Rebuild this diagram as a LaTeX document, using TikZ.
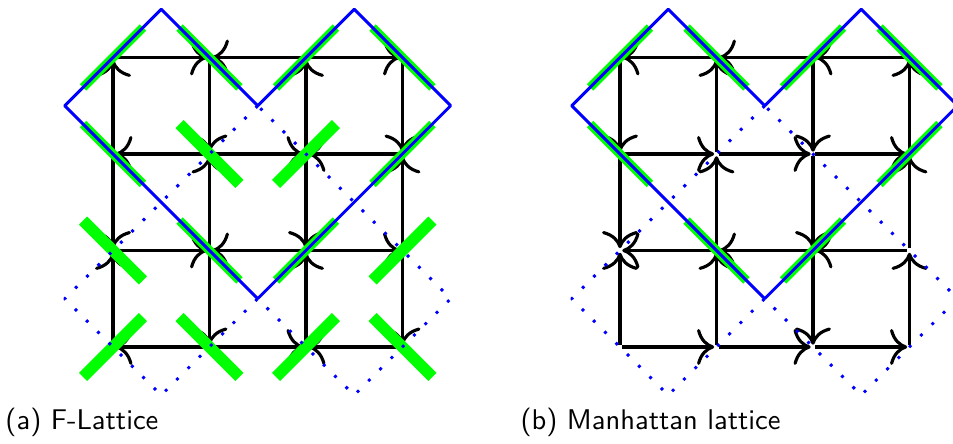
\documentclass[tikz,border=0pt]{standalone}
\usetikzlibrary{arrows.meta}
\tikzset{
  vtx/.style={circle,inner sep=0pt,minimum size=1.2pt},
  lat/.style={-{Computer Modern Rightarrow[scale=1.5]},line width=1.1pt},
  bline/.style={blue,line width=1pt},
  dline/.style={blue,line width=1pt,dash pattern=on 1pt off 4.6pt},
  bar/.style={green,line width=4pt},
  thinbar/.style={green,line width=3.2pt},
  captext/.style={anchor=base west,font=\sffamily,inner sep=0pt}
}
\begin{document}
\begin{tikzpicture}[x=1.19cm,y=1.19cm,line join=round]
\useasboundingbox (-1.171,-0.995) rectangle (8.705,3.596);

% (a) F-lattice
\foreach \i in {0,...,3}
  \foreach \j in {0,...,3}
    \node[vtx] (a\i\j) at (\i,\j) {};
% rows point to the even vertex, columns to the odd one
\foreach \i in {0,1,2}
  \foreach \j in {0,...,3}{
    \pgfmathtruncatemacro\p{mod(\i+\j,2)}
    \pgfmathtruncatemacro\ii{\i+1}
    \ifnum\p=0 \draw[lat] (a\ii\j) -- (a\i\j);
    \else \draw[lat] (a\i\j) -- (a\ii\j); \fi
  }
\foreach \i in {0,...,3}
  \foreach \j in {0,1,2}{
    \pgfmathtruncatemacro\p{mod(\i+\j,2)}
    \pgfmathtruncatemacro\jj{\j+1}
    \ifnum\p=0 \draw[lat] (a\i\j) -- (a\i\jj);
    \else \draw[lat] (a\i\jj) -- (a\i\j); \fi
  }
% splittings
\foreach \i/\j/\s in {0/3/1,1/3/-1,2/3/1,3/3/-1,0/2/-1,3/2/1,1/1/-1,2/1/1}
  \draw[thinbar] (\i-.31,\j-.31*\s) -- (\i+.31,\j+.31*\s);
\foreach \i/\j/\s in {1/2/-1,2/2/1,0/1/-1,3/1/1,0/0/1,1/0/-1,2/0/1,3/0/-1}
  \draw[bar] (\i-.31,\j-.31*\s) -- (\i+.31,\j+.31*\s);
\draw[bline] (-.5,2.5) -- (.5,3.5) -- (1.5,2.5) -- (2.5,3.5) -- (3.5,2.5) -- (1.5,.5) -- cycle;
\draw[dline] (1.5,2.5) -- (-.5,.5) -- (.5,-.5) -- (1.5,.5) -- (2.5,-.5) -- (3.5,.5) -- cycle;
\node[captext] (capa) at (-1.12,-.85) {(a) F-Lattice};

% (b) Manhattan lattice
\begin{scope}[shift={(5.254,0)}]
\foreach \i in {0,...,3}
  \foreach \j in {0,...,3}
    \node[vtx] (b\i\j) at (\i,\j) {};
\foreach \i in {0,1,2}
  \foreach \j in {0,...,3}{
    \pgfmathtruncatemacro\ii{\i+1}
    \ifodd\j \draw[lat] (b\ii\j) -- (b\i\j);
    \else \draw[lat] (b\i\j) -- (b\ii\j); \fi
  }
\foreach \i in {0,...,3}
  \foreach \j in {0,1,2}{
    \pgfmathtruncatemacro\p{or(mod(\i,2)==1,and(\i==0,\j==0))}
    \pgfmathtruncatemacro\jj{\j+1}
    \ifnum\p=1 \draw[lat] (b\i\j) -- (b\i\jj);
    \else \draw[lat] (b\i\jj) -- (b\i\j); \fi
  }
\foreach \i/\j/\s in {0/3/1,1/3/-1,2/3/1,3/3/-1,0/2/-1,3/2/1,1/1/-1,2/1/1}
  \draw[thinbar] (\i-.31,\j-.31*\s) -- (\i+.31,\j+.31*\s);
\draw[bline] (-.5,2.5) -- (.5,3.5) -- (1.5,2.5) -- (2.5,3.5) -- (3.5,2.5) -- (1.5,.5) -- cycle;
\draw[dline] (1.5,2.5) -- (-.5,.5) -- (.5,-.5) -- (1.5,.5) -- (2.5,-.5) -- (3.5,.5) -- cycle;
\end{scope}
\node[captext] (capb) at (4.218,-.85) {(b) Manhattan lattice};
\end{tikzpicture}
\end{document}
